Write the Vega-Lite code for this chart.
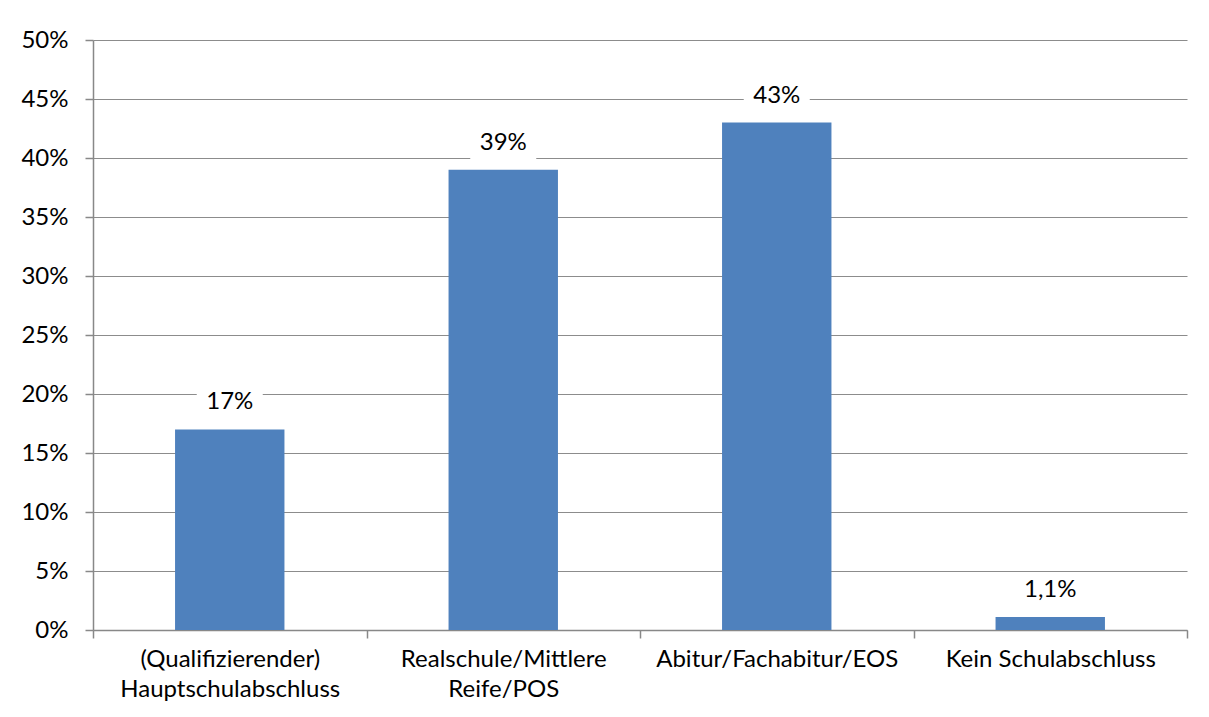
{
  "$schema": "https://vega.github.io/schema/vega-lite/v6.json",
  "width": 1094,
  "height": 590,
  "autosize": "none",
  "padding": {"left": 93, "top": 40, "right": 22, "bottom": 87},
  "background": "white",
  "config": {
    "view": {"stroke": null},
    "font": "Lato",
    "axis": {"labelFont": "Lato", "labelFontSize": 24, "labelColor": "#000000", "labelLimit": 0, "domainColor": "#888888", "tickColor": "#888888", "gridColor": "#8c8c8c", "domainWidth": 1.5, "tickWidth": 1.5, "gridWidth": 1.2, "tickSize": 8, "title": null}
  },
  "data": {
    "values": [
      {"category": "(Qualifizierender)\nHauptschulabschluss", "value": 17, "label": "17%"},
      {"category": "Realschule/Mittlere\nReife/POS", "value": 39, "label": "39%"},
      {"category": "Abitur/Fachabitur/EOS", "value": 43, "label": "43%"},
      {"category": "Kein Schulabschluss", "value": 1.1, "label": "1,1%"}
    ]
  },
  "encoding": {
    "x": {
      "field": "category", "type": "nominal", "sort": null,
      "scale": {"paddingInner": 0, "paddingOuter": 0},
      "axis": {"labelAngle": 0, "tickBand": "extent", "labelExpr": "split(datum.label, '\\n')", "labelLineHeight": 30, "labelPadding": 9, "labelBaseline": "top"}
    },
    "y": {
      "field": "value", "type": "quantitative",
      "scale": {"domain": [0, 50], "nice": false},
      "axis": {"values": [0, 5, 10, 15, 20, 25, 30, 35, 40, 45, 50], "labelExpr": "datum.value + '%'", "labelPadding": 17, "grid": true}
    }
  },
  "layer": [
    {"mark": {"type": "bar", "color": "#4F81BD", "width": {"band": 0.4}}},
    {"mark": {"type": "point", "shape": "M-1,-0.5L1,-0.5L1,0.5L-1,0.5Z", "filled": true, "fill": "white", "opacity": 1, "strokeWidth": 0, "size": 4356, "yOffset": -26}},
    {"mark": {"type": "text", "fontSize": 24, "font": "Lato", "color": "#000000", "baseline": "middle", "yOffset": -27}, "encoding": {"text": {"field": "label"}}}
  ]
}
